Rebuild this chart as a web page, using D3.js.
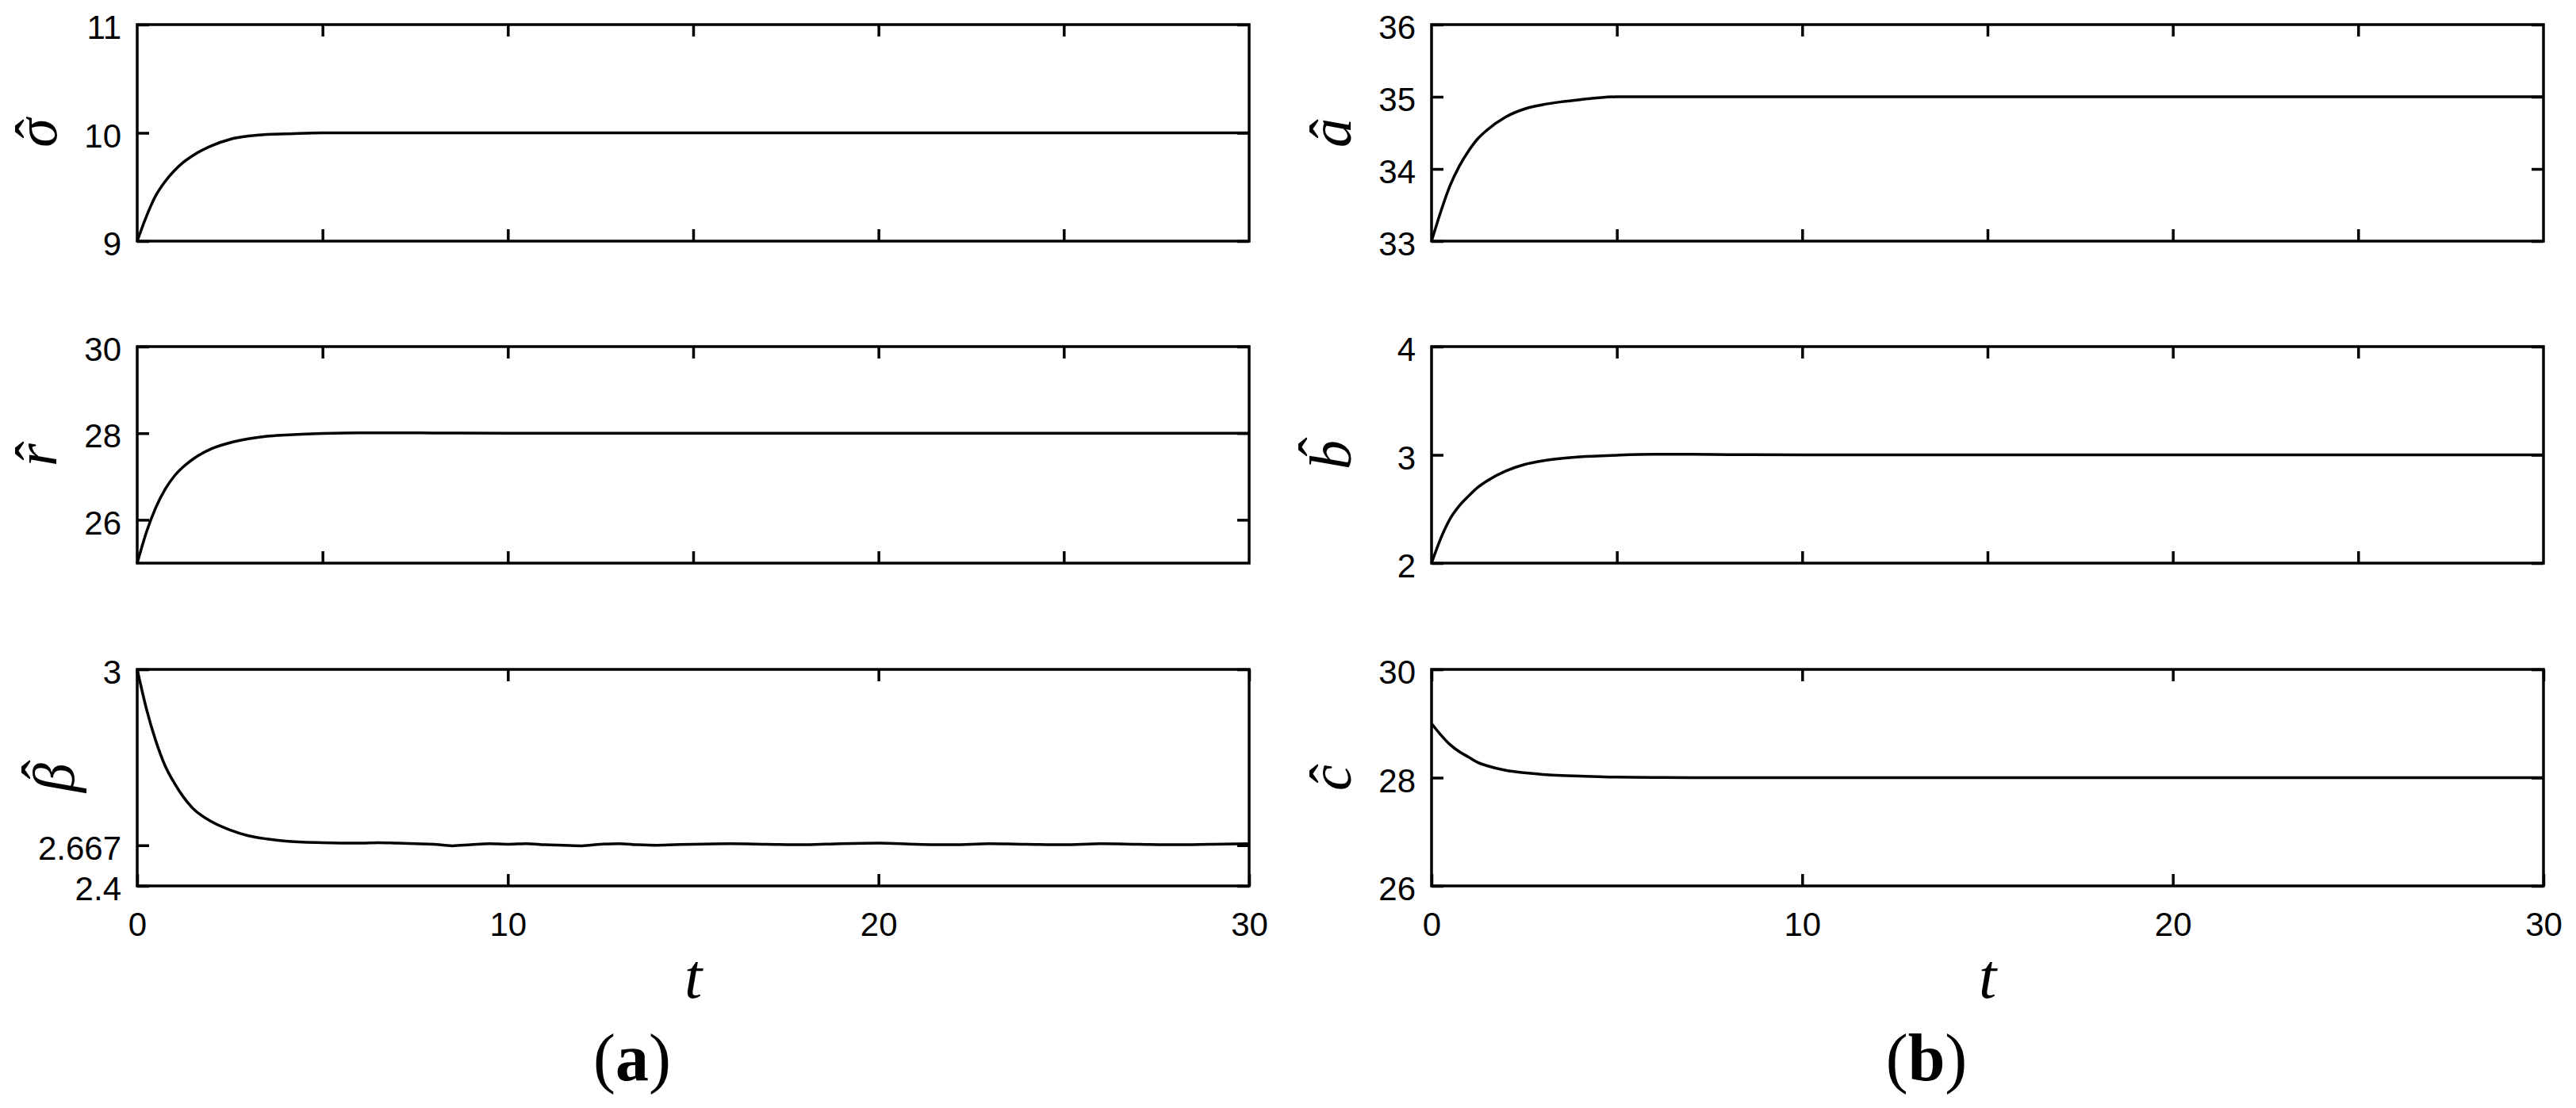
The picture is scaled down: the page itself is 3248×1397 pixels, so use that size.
<!DOCTYPE html>
<html>
<head>
<meta charset="utf-8">
<script src="https://cdn.jsdelivr.net/npm/d3@7"></script>
<style>
	body { margin: 0; background: #fff; }
	svg { display: block; }
</style>
</head>
<body>
<svg id="chart" width="3248" height="1397"></svg>
<script>
(function(){
	'use strict';

	// shared time grid of the transient part
	var times = [0, 0.25, 0.5, 0.75, 1, 1.25, 1.5, 2, 2.5, 3, 3.5, 4, 5, 6, 7, 8, 10, 12, 15, 20, 25, 30];

	var sigmaVals = [9.00, 9.23, 9.42, 9.55, 9.65, 9.73, 9.79, 9.88, 9.94, 9.97, 9.985, 9.99, 10.0, 10.0, 10.0, 10.0, 10.0, 10.0, 10.0, 10.0, 10.0, 10.0];
	var rVals     = [25.0, 25.72, 26.28, 26.70, 27.01, 27.23, 27.40, 27.64, 27.78, 27.87, 27.93, 27.96, 27.995, 28.01, 28.01, 28.005, 28.0, 28.0, 28.0, 28.0, 28.0, 28.0];
	var aVals     = [33.0, 33.41, 33.77, 34.04, 34.25, 34.42, 34.54, 34.72, 34.83, 34.89, 34.93, 34.96, 35.0, 35.0, 35.0, 35.0, 35.0, 35.0, 35.0, 35.0, 35.0, 35.0];
	var bVals     = [2.00, 2.23, 2.41, 2.53, 2.62, 2.70, 2.76, 2.85, 2.91, 2.945, 2.967, 2.982, 2.997, 3.005, 3.005, 3.002, 3.0, 3.0, 3.0, 3.0, 3.0, 3.0];
	var cVals     = [29.0, 28.79, 28.61, 28.48, 28.38, 28.28, 28.22, 28.135, 28.09, 28.06, 28.04, 28.03, 28.01, 28.005, 28.0, 28.0, 28.0, 28.0, 28.0, 28.0, 28.0, 28.0];

	// beta estimate is a little noisy after the transient, so it has its own grid
	var betaTimes = [0, 0.25, 0.5, 0.75, 1, 1.25, 1.5, 2, 2.5, 3, 3.5, 4, 5, 6, 6.5, 7, 7.5, 8, 8.5, 9, 9.5, 10, 10.5, 11, 11.5, 12, 12.5, 13, 13.5, 14, 14.5, 15, 16, 17, 18, 19, 20, 21, 22, 23, 24, 25, 26, 27, 28, 29, 30];
	var betaVals  = [3.0, 2.925, 2.865, 2.818, 2.785, 2.758, 2.737, 2.712, 2.696, 2.685, 2.679, 2.675, 2.672, 2.671, 2.672, 2.671, 2.670, 2.669, 2.666, 2.668, 2.670, 2.669, 2.670, 2.668, 2.667, 2.666, 2.669, 2.670, 2.668, 2.667, 2.668, 2.669, 2.670, 2.669, 2.668, 2.670, 2.671, 2.669, 2.668, 2.670, 2.669, 2.668, 2.670, 2.669, 2.668, 2.669, 2.670];

	// axis settings per panel
	var sigmaTicks = [9, 10, 11];
	var rTicks = [26, 28, 30];
	var betaTicks = [2.59, 2.667, 3];
	var betaTickLabels = ["2.4", "2.667", "3"];
	var aTicks = [33, 34, 35, 36];
	var bTicks = [2, 3, 4];
	var cTicks = [26, 28, 30];
	var xTicksInner = [5, 10, 15, 20, 25];
	var xTicksBottom = [0, 10, 20, 30];
	var xLabel = "t";
	var panelTags = ["a", "b"];

	var panels = [
		{col: 0, row: 0, letter: "\u03c3", tall: false, t: times, v: sigmaVals, domain: [9, 11], ticks: sigmaTicks},
		{col: 0, row: 1, letter: "r", tall: false, t: times, v: rVals, domain: [25, 30], ticks: rTicks},
		{col: 0, row: 2, letter: "\u03b2", tall: true, t: betaTimes, v: betaVals, domain: [2.59, 3], ticks: betaTicks, tickLabels: betaTickLabels},
		{col: 1, row: 0, letter: "a", tall: false, t: times, v: aVals, domain: [33, 36], ticks: aTicks},
		{col: 1, row: 1, letter: "b", tall: true, t: times, v: bVals, domain: [2, 4], ticks: bTicks},
		{col: 1, row: 2, letter: "c", tall: false, t: times, v: cVals, domain: [26, 30], ticks: cTicks}
	];

	var colX = [173, 1805];
	var rowY = [31, 437, 844];
	var width = 1402, height = 273;
	var sans = "'Liberation Sans', Arial, sans-serif";
	var serif = "'Liberation Serif', 'Times New Roman', serif";

	var svg = d3.select("#chart");
	svg.append("rect").attr("width", 3248).attr("height", 1397).attr("fill", "#fff");

	function styleAxis(g){
		g.attr("font-family", sans).attr("font-size", 42);
		g.select(".domain").remove();
		g.selectAll("line").attr("stroke", "#000").attr("stroke-width", 3.5);
		g.selectAll("text").attr("fill", "#000");
	}

	panels.forEach(function(p){
		var x = d3.scaleLinear().domain([0, 30]).range([0, width]);
		var y = d3.scaleLinear().domain(p.domain).range([height, 0]);
		var isBottom = p.row === 2;

		var g = svg.append("g")
			.attr("transform", "translate(" + colX[p.col] + "," + rowY[p.row] + ")");

		// y axis left (labels) and right (mirror)
		var yAxis = d3.axisLeft(y)
			.tickValues(p.ticks)
			.tickSize(-15)
			.tickPadding(20)
			.tickFormat(function(d, i){ return p.tickLabels ? p.tickLabels[i] : d3.format("d")(d); });
		g.append("g").call(yAxis).call(styleAxis)
			.selectAll("text").attr("dy", "0.42em");
		g.append("g")
			.attr("transform", "translate(" + width + ",0)")
			.call(d3.axisRight(y).tickValues(p.ticks).tickSize(-15).tickFormat(""))
			.call(styleAxis);

		// x axis bottom and top (mirror)
		var xTicks = isBottom ? xTicksBottom : xTicksInner;
		g.append("g")
			.attr("transform", "translate(0," + height + ")")
			.call(d3.axisBottom(x).tickValues(xTicks).tickSize(-15).tickPadding(33)
				.tickFormat(isBottom ? d3.format("d") : ""))
			.call(styleAxis);
		g.append("g")
			.call(d3.axisTop(x).tickValues(xTicks).tickSize(-15).tickFormat(""))
			.call(styleAxis);

		// curve
		var data = p.t.map(function(t, i){ return [t, p.v[i]]; });
		g.append("path")
			.datum(data)
			.attr("fill", "none")
			.attr("stroke", "#000")
			.attr("stroke-width", 3.5)
			.attr("stroke-linejoin", "round")
			.attr("d", d3.line()
				.x(function(d){ return x(d[0]); })
				.y(function(d){ return y(d[1]); })
				.curve(d3.curveMonotoneX));

		// frame
		g.append("rect")
			.attr("width", width)
			.attr("height", height)
			.attr("fill", "none")
			.attr("stroke", "#000")
			.attr("stroke-width", 3.5);

		// y label (rotated, reads bottom to top) with a hat above the letter
		// beta sits further right in the original, its descender reaching toward the tick labels
		var labelX = colX[p.col] - (p.letter === "\u03b2" ? 80 : 102);
		var lab = svg.append("g")
			.attr("transform", "translate(" + labelX + "," + (rowY[p.row] + height / 2) + ") rotate(-90)")
			.attr("font-family", serif)
			.attr("font-style", "italic")
			.attr("font-size", 74)
			.attr("text-anchor", "middle");
		lab.append("text").text(p.letter);
		lab.append("text")
			.attr("x", p.tall ? 10 : 5)
			.attr("y", p.tall ? -14 : 0)
			.attr("font-style", "normal")
			.text("\u02c6");
	});

	// x labels and panel tags
	colX.forEach(function(cx, i){
		var mid = cx + width / 2;
		svg.append("text")
			.attr("x", mid)
			.attr("y", 1258)
			.attr("text-anchor", "middle")
			.attr("font-family", serif)
			.attr("font-style", "italic")
			.attr("font-size", 80)
			.text(xLabel);

		var tag = svg.append("text")
			.attr("x", mid - 77)
			.attr("y", 1362)
			.attr("text-anchor", "middle")
			.attr("font-family", serif)
			.attr("font-size", 84);
		tag.append("tspan").text("(");
		tag.append("tspan").attr("font-weight", "bold").text(panelTags[i]);
		tag.append("tspan").text(")");
	});
}());
</script>
</body>
</html>
